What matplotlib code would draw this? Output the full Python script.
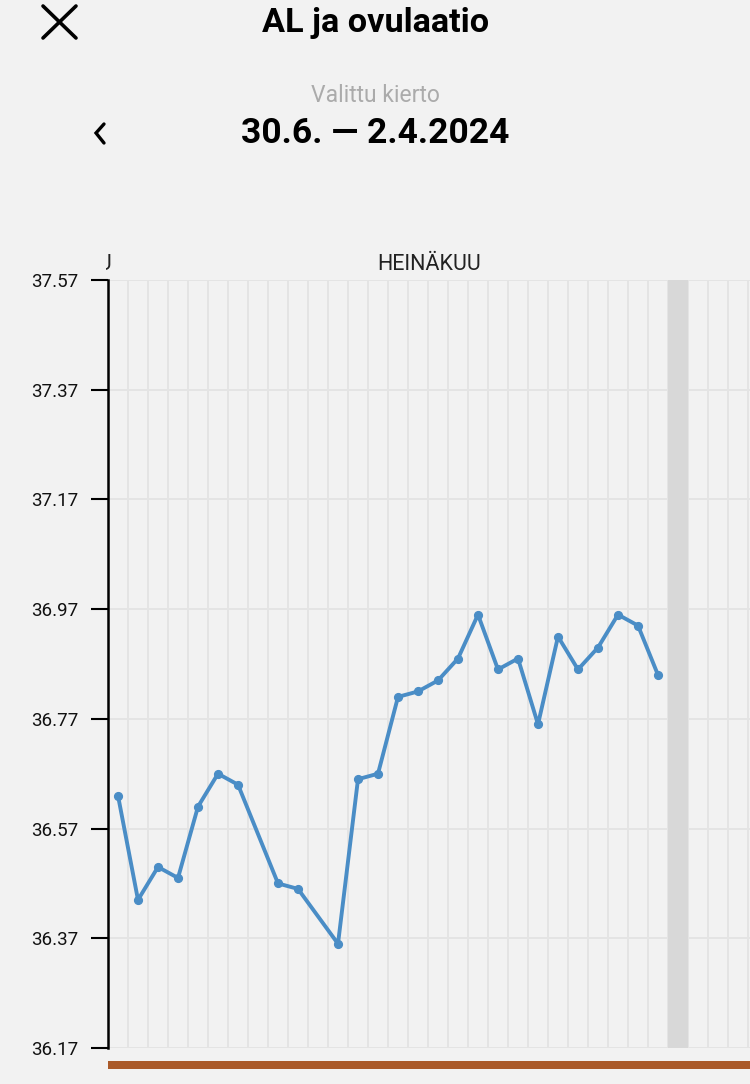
import matplotlib
matplotlib.use("Agg")
import matplotlib.pyplot as plt
from matplotlib.lines import Line2D
from matplotlib.patches import Rectangle
from matplotlib.transforms import Bbox

# ---- data ----
days = [0, 1, 2, 3, 4, 5, 6, 8, 9, 11, 12, 13, 14, 15, 16, 17, 18, 19, 20,
        21, 22, 23, 24, 25, 26, 27]
temps = [36.63, 36.44, 36.50, 36.48, 36.61, 36.67, 36.65, 36.47, 36.46, 36.36,
         36.66, 36.67, 36.81, 36.82, 36.84, 36.88, 36.96, 36.86, 36.88, 36.76,
         36.92, 36.86, 36.90, 36.96, 36.94, 36.85]
y_ticks = [36.17, 36.37, 36.57, 36.77, 36.97, 37.17, 37.37, 37.57]
highlight_day = 28
n_cells = 32
month_label = "HEINÄKUU"
prev_month_label = "KESÄKUU"
title = "AL ja ovulaatio"
subtitle = "Valittu kierto"
cycle_range = "30.6. — 2.4.2024"

BG = "#F2F2F2"
W, H = 750, 1084
fig = plt.figure(figsize=(W / 100, H / 100), dpi=100, facecolor=BG)

def fx(px):
    return px / W

def fy(py):
    return 1 - py / H

# axes: x from 108 to 750 px, y from 280 to 1048 px
ax = fig.add_axes([fx(108), fy(1048), fx(750) - fx(108), (1048 - 280) / H])
ax.set_facecolor(BG)
x_left = -0.5
x_right = x_left + (750 - 108) / 20.0
ax.set_xlim(x_left, x_right)
ax.set_ylim(y_ticks[0], y_ticks[-1])

# vertical day grid
for k in range(n_cells):
    ax.axvline(k + 0.5, color="#E4E4E4", lw=1.4, zorder=1)
# horizontal grid
for t in y_ticks:
    ax.axhline(t, color="#E4E4E4", lw=1.4, zorder=1)
# highlighted day
ax.axvspan(highlight_day - 0.5, highlight_day + 0.5, color="#D8D8D8", zorder=1.5, lw=0)

ax.plot(days, temps, color="#4A8DC6", lw=2.8, marker="o", ms=5.6,
        solid_joinstyle="round", zorder=3, clip_on=False)

ax.set_xticks([])
ax.set_yticks(y_ticks)
ax.set_yticklabels([f"{t:.2f}" for t in y_ticks])
ax.tick_params(axis="y", length=12.5, width=1.5, color="black", pad=8.5,
               labelsize=13.5, labelcolor="#111111")
for s in ["top", "right", "bottom"]:
    ax.spines[s].set_visible(False)
ax.spines["left"].set_linewidth(1.8)
ax.spines["left"].set_color("black")
for lab in ax.get_yticklabels():
    lab.set_fontfamily("Roboto")

# month labels
fig.text(fx(429), fy(264), month_label, ha="center", va="center",
         fontsize=15.5, color="#222222", fontfamily="Roboto")
t_prev = fig.text(fx(112), fy(264), prev_month_label, ha="right", va="center",
                  fontsize=15.5, color="#222222", fontfamily="Roboto")
t_prev.set_clip_box(Bbox.from_extents(106, 0, 120, H))
t_prev.set_clip_on(True)

# brown bar
fig.add_artist(Rectangle((fx(108), fy(1069)), fx(750) - fx(108), 8 / H,
                         transform=fig.transFigure, color="#AA5A2A", lw=0))

# header
fig.text(fx(376), fy(23), title, ha="center", va="center", fontsize=24.7,
         fontweight="bold", fontfamily="Roboto", color="black")
fig.text(fx(375), fy(95), subtitle, ha="center", va="center", fontsize=16.5,
         fontfamily="Roboto", color="#ABABAB")
fig.text(fx(375), fy(133), cycle_range, ha="center", va="center", fontsize=25.5,
         fontweight="bold", fontfamily="Roboto", color="black")
# back chevron
fig.add_artist(Line2D([fx(104), fx(96), fx(104)], [fy(124), fy(133), fy(143)],
                      transform=fig.transFigure, color="black", lw=2.4,
                      solid_capstyle="round", solid_joinstyle="miter"))
# close X
fig.add_artist(Line2D([fx(43), fx(76)], [fy(6), fy(38)],
                      transform=fig.transFigure, color="black", lw=2.6,
                      solid_capstyle="round"))
fig.add_artist(Line2D([fx(43), fx(76)], [fy(38), fy(6)],
                      transform=fig.transFigure, color="black", lw=2.6,
                      solid_capstyle="round"))

fig.savefig("out.png", dpi=100, facecolor=BG)
